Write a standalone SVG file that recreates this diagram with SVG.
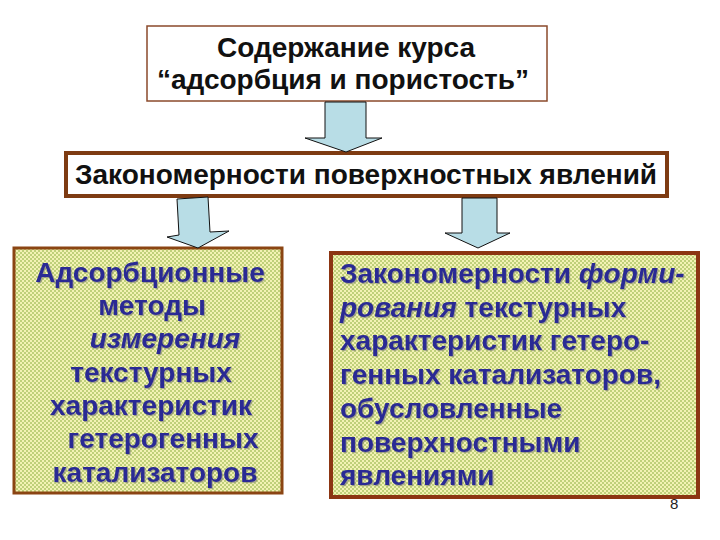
<svg xmlns="http://www.w3.org/2000/svg" width="720" height="540" viewBox="0 0 720 540">
<defs>
<pattern id="dots" width="4" height="4" patternUnits="userSpaceOnUse">
<rect width="4" height="4" fill="#f3f2b4"/>
<rect x="0" y="0" width="2" height="2" fill="#bfd07a"/>
<rect x="2" y="2" width="2" height="2" fill="#bfd07a"/>
</pattern>
<filter id="sh" x="-5%" y="-5%" width="110%" height="120%">
<feDropShadow dx="1.2" dy="1.2" stdDeviation="0.6" flood-color="#777" flood-opacity="0.6"/>
</filter>
</defs>
<style>
.arrow{fill:#b8dde6;stroke:#111;stroke-width:1}
.hd{font-family:"Liberation Sans",Arial,sans-serif;font-weight:bold;fill:#111}
.bt{font-family:"Liberation Sans",Arial,sans-serif;font-weight:bold;font-size:28px;fill:#2c2c94;filter:url(#sh)}
.it{font-style:italic}
</style>
<rect width="720" height="540" fill="#ffffff"/>
<g id="top">
<rect x="147" y="26" width="400" height="75" fill="#ffffff" stroke="#8b4a2b" stroke-width="1.5"/>
<text class="hd" font-size="28" x="346" y="57" text-anchor="middle">Содержание курса</text>
<text class="hd" font-size="28" x="343" y="89" text-anchor="middle">“адсорбция и пористость”</text>
</g>
<g id="middle">
<rect x="66" y="153" width="601" height="43" fill="#ffffff" stroke="#7e3b12" stroke-width="4"/>
<text class="hd" font-size="28" x="366" y="184" text-anchor="middle">Закономерности поверхностных явлений</text>
</g>
<g id="left">
<rect x="14" y="248" width="268" height="245" fill="url(#dots)" stroke="#8b4513" stroke-width="3"/>
<text class="bt" x="150" y="282" text-anchor="middle">Адсорбционные</text>
<text class="bt" x="152" y="315" text-anchor="middle">методы</text>
<text class="bt it" x="165" y="348" text-anchor="middle">измерения</text>
<text class="bt" x="151" y="382" text-anchor="middle">текстурных</text>
<text class="bt" x="151" y="415" text-anchor="middle">характеристик</text>
<text class="bt" x="163" y="448" text-anchor="middle">гетерогенных</text>
<text class="bt" x="155" y="482" text-anchor="middle">катализаторов</text>
</g>
<g id="right">
<rect x="331" y="253" width="367" height="244" fill="url(#dots)" stroke="#8c3512" stroke-width="4"/>
<text class="bt" x="340" y="283">Закономерности <tspan class="it">форми-</tspan></text>
<text class="bt" x="340" y="317"><tspan class="it">рования</tspan> текстурных</text>
<text class="bt" x="340" y="350">характеристик гетеро-</text>
<text class="bt" x="340" y="384">генных катализаторов,</text>
<text class="bt" x="340" y="418">обусловленные</text>
<text class="bt" x="340" y="452">поверхностными</text>
<text class="bt" x="340" y="485">явлениями</text>
</g>
<g id="connectors">
<polygon class="arrow" points="325,102 366,102 366,138 382,138 346,152 305,138 325,138"/>
<polygon class="arrow" points="177,199 208,197 210,232 229,231 198,248 167,237 179,235"/>
<polygon class="arrow" points="462,198 497,198 497,233 510,233 478,248 445,233 462,233"/>
</g>
<text x="670" y="509" font-family="'Liberation Sans',Arial,sans-serif" font-size="15" fill="#222">8</text>
</svg>
